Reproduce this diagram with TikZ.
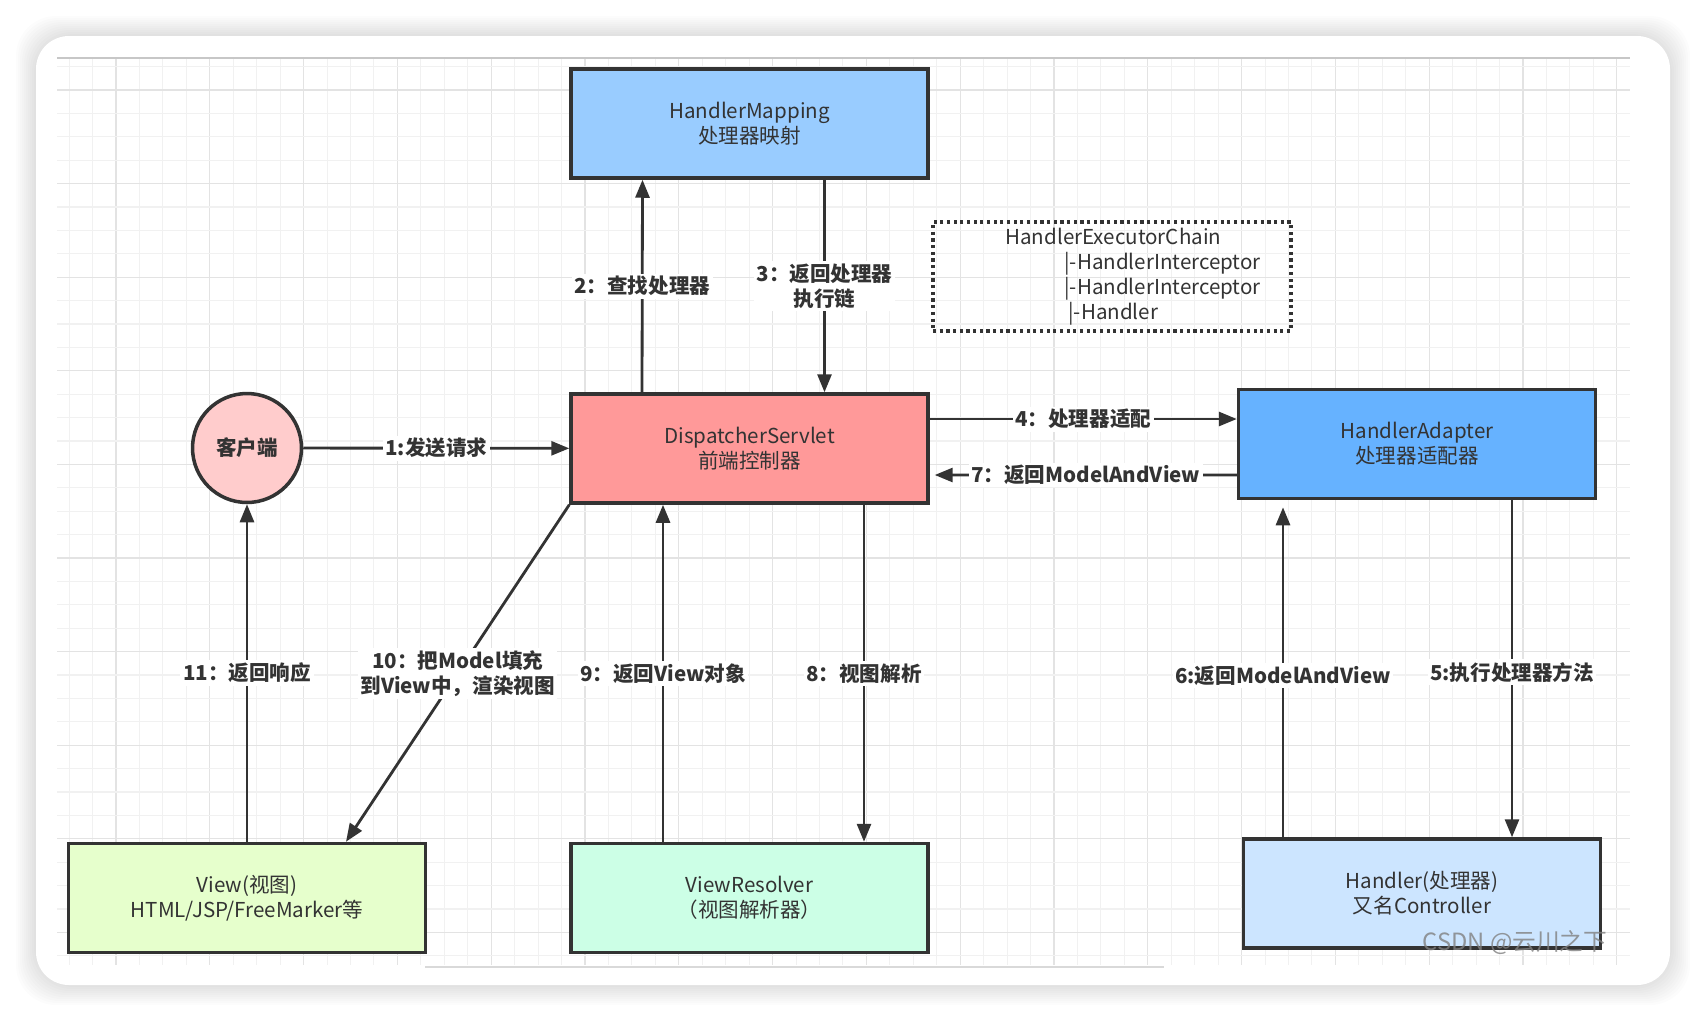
\documentclass[tikz,border=0pt]{standalone}
\usepackage{fontspec}
\setmainfont{Noto Sans CJK SC}
\usepackage{tikz}
\usetikzlibrary{arrows.meta,calc}
\usepackage{xcolor}
\definecolor{ink}{HTML}{333333}
\definecolor{gridminor}{HTML}{F1F1F1}
\definecolor{gridmajor}{HTML}{E3E3E3}
\definecolor{hmblue}{HTML}{99CCFF}
\definecolor{dsred}{HTML}{FF9999}
\definecolor{hablue}{HTML}{66B2FF}
\definecolor{viewgreen}{HTML}{E6FFCC}
\definecolor{vrgreen}{HTML}{CCFFE6}
\definecolor{hdlblue}{HTML}{CCE5FF}
\definecolor{clientpink}{HTML}{FFCCCC}

\begin{document}
\begin{tikzpicture}[x=0.02cm,y=-0.02cm,>={Triangle[length=3.6mm,width=2.8mm]},
  box/.style={draw=ink,line width=2pt,minimum width=7.14cm,minimum height=2.18cm,
    align=center,text=ink,font=\fontsize{11.7}{14.2}\selectfont},
  arr/.style={->,draw=ink,line width=1.6pt},
  lbl/.style={fill=white,text=ink,inner sep=1.5pt,align=center,
    font=\bfseries\fontsize{11.7}{14.2}\selectfont}]
\useasboundingbox (0,0) rectangle (1706,1022);

% card and its shadow
\fill[white] (0,0) rectangle (1706,1022);
\foreach \s in {2,4,...,20}
  \fill[black,opacity=0.012,rounded corners=0.8cm] (36-\s,36-\s) rectangle (1670+\s,985+\s);
\fill[white,rounded corners=0.66cm] (36,36) rectangle (1670,985);

% grid
\foreach \i in {0,...,66} {
  \pgfmathsetmacro\gx{69.1+23.45*\i}
  \pgfmathtruncatemacro\gm{mod(\i+2,4)}
  \ifnum\gm=0
    \draw[gridmajor,line width=0.6pt] (\gx,58) -- (\gx,965);
  \else
    \draw[gridminor,line width=0.6pt] (\gx,58) -- (\gx,965);
  \fi
}
\foreach \i in {0,...,38} {
  \pgfmathsetmacro\gy{66.6+23.4*\i}
  \pgfmathtruncatemacro\gm{mod(\i+3,4)}
  \ifnum\gm=0
    \draw[gridmajor,line width=0.6pt] (57,\gy) -- (1630,\gy);
  \else
    \draw[gridminor,line width=0.6pt] (57,\gy) -- (1630,\gy);
  \fi
}
\draw[black!22,line width=0.8pt] (57,58) -- (1630,58);
\draw[black!15,line width=0.8pt] (425,967) -- (1164,967);

% nodes
\node (hm) [box,fill=hmblue] at (749.5,123.5) {HandlerMapping\\处理器映射};
\node (ds) [box,fill=dsred] at (749.5,448.5) {DispatcherServlet\\前端控制器};
\node (ha) [box,fill=hablue] at (1417,444) {HandlerAdapter\\处理器适配器};
\node (view) [box,fill=viewgreen] at (247,898) {View(视图)\\HTML/JSP/FreeMarker等};
\node (vr) [box,fill=vrgreen] at (749.5,898) {ViewResolver\\（视图解析器）};
\node (hdl) [box,fill=hdlblue] at (1422,893.5) {Handler(处理器)\\又名Controller};
\node (client) [circle,draw=ink,line width=2pt,fill=clientpink,minimum size=2.18cm,
  text=ink,font=\bfseries\fontsize{11.7}{14.2}\selectfont] at (247,448) {客户端};
\node (chain) [draw=ink,line width=1.8pt,dotted,minimum width=7.16cm,minimum height=2.18cm]
  at (1112,276.5) {};
\node (chaintxt) [anchor=west,align=left,inner sep=0pt,text=ink,
  font=\fontsize{11.7}{14.2}\selectfont] at (1005,277) {HandlerExecutorChain\\
  \hspace*{1.18cm}|-HandlerInterceptor\\
  \hspace*{1.18cm}|-HandlerInterceptor\\
  \hspace*{1.26cm}|-Handler};

% connectors
\draw[arr] (client) -- (ds) node[midway,lbl]{1:发送请求};
\draw[arr] ($(ds.north)+(-107.5,0)$) -- ($(hm.south)+(-107,0)$) node[midway,lbl]{2：查找处理器};
\draw[arr] ($(hm.south)+(75,0)$) -- ($(ds.north)+(75,0)$) node[midway,lbl]{3：返回处理器\\执行链};
\draw[arr] ($(ds.east)+(0,-29.5)$) -- ($(ha.west)+(0,-25)$) node[midway,lbl]{4：处理器适配};
\draw[arr] ($(ha.south)+(95,0)$) -- ($(hdl.north)+(90,0)$) node[pos=0.51,lbl]{5:执行处理器方法};
\draw[arr,shorten >=4pt] ($(hdl.north)+(-139,0)$) -- ($(ha.south)+(-134,0)$) node[pos=0.48,lbl]{6:返回ModelAndView};
\draw[arr] ($(ha.west)+(0,31)$) -- ($(ds.east)+(5,26.5)$) node[midway,lbl]{7：返回ModelAndView};
\draw[arr] ($(ds.south)+(114.5,0)$) -- ($(vr.north)+(114.5,0)$) node[midway,lbl]{8：视图解析};
\draw[arr] ($(vr.north)+(-86.5,0)$) -- ($(ds.south)+(-86.5,0)$) node[midway,lbl]{9：返回View对象};
\draw[arr] (ds.south west) -- ($(view.north)+(99,0)$) node[midway,lbl]{10：把Model填充\\到View中，渲染视图};
\draw[arr] (view.north) -- (client.south) node[midway,lbl]{11：返回响应};

% watermark
\node (mark) [text=gray,opacity=0.8,font=\fontsize{13.5}{14}\selectfont] at (1515,943) {CSDN @云川之下};
\end{tikzpicture}
\end{document}
